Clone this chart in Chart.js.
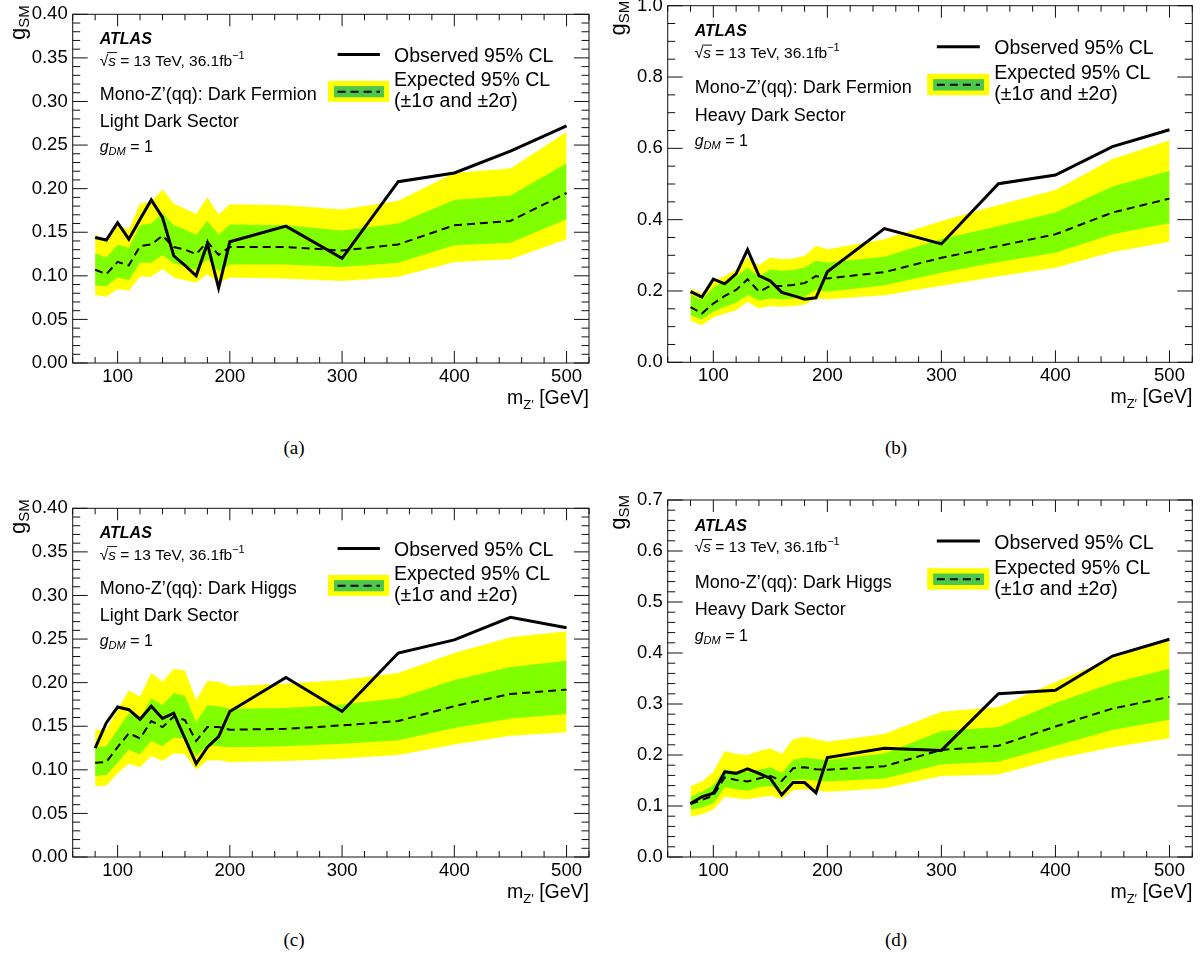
<!DOCTYPE html>
<html>
<head>
<meta charset="utf-8">
<script src="https://cdn.jsdelivr.net/npm/chart.js@4.4.0/dist/chart.umd.min.js"></script>
<style>
  body { margin: 0; background: #fff; width: 1203px; height: 958px; position: relative; overflow: hidden; }
  canvas { position: absolute; }
  .cap { position: absolute; width: 60px; text-align: center; font: 19px 'Liberation Serif', 'Times New Roman', serif; line-height: 22px; color: #000; }
</style>
</head>
<body>
<canvas id="cA" width="600" height="420" style="left:0;top:0"></canvas>
<canvas id="cB" width="603" height="430" style="left:600px;top:-10px"></canvas>
<canvas id="cC" width="600" height="420" style="left:0;top:494px"></canvas>
<canvas id="cD" width="603" height="430" style="left:600px;top:484px"></canvas>
<div class="cap" style="left:264px;top:437px">(a)</div>
<div class="cap" style="left:866px;top:437px">(b)</div>
<div class="cap" style="left:264px;top:929px">(c)</div>
<div class="cap" style="left:866px;top:929px">(d)</div>
<script>
// mediator masses [GeV]
var mass = [80, 90, 100, 110, 120, 130, 140, 150, 160, 170, 180, 190, 200, 250, 300, 350, 400, 450, 500];
var xTicks = [100, 200, 300, 400, 500];

// (a) dark fermion, light dark sector
var obsA  = [0.144,0.141,0.161,0.142,0.165,0.187,0.167,0.123,0.112,0.100,0.137,0.086,0.139,0.157,0.120,0.208,0.218,0.243,0.272];
var expA  = [0.107,0.102,0.116,0.112,0.134,0.136,0.146,0.133,0.130,0.125,0.139,0.124,0.133,0.133,0.129,0.136,0.158,0.163,0.195];
var s1upA = [0.126,0.121,0.136,0.132,0.158,0.160,0.172,0.158,0.153,0.147,0.163,0.147,0.159,0.158,0.152,0.160,0.187,0.192,0.229];
var s1dnA = [0.089,0.088,0.098,0.095,0.115,0.115,0.124,0.114,0.111,0.107,0.119,0.105,0.113,0.113,0.110,0.115,0.135,0.138,0.165];
var s2upA = [0.148,0.140,0.158,0.153,0.183,0.185,0.199,0.183,0.177,0.171,0.190,0.170,0.182,0.181,0.176,0.186,0.218,0.223,0.265];
var s2dnA = [0.078,0.076,0.085,0.083,0.099,0.099,0.108,0.098,0.095,0.092,0.102,0.092,0.098,0.097,0.094,0.099,0.116,0.119,0.142];

// (b) dark fermion, heavy dark sector
var obsB  = [0.198,0.183,0.233,0.220,0.248,0.316,0.243,0.228,0.196,0.187,0.177,0.181,0.254,0.375,0.332,0.501,0.525,0.605,0.652];
var expB  = [0.155,0.137,0.165,0.186,0.203,0.233,0.198,0.214,0.214,0.217,0.222,0.242,0.235,0.253,0.293,0.326,0.359,0.420,0.459];
var s1upB = [0.190,0.175,0.210,0.228,0.240,0.266,0.240,0.261,0.257,0.259,0.266,0.285,0.280,0.296,0.346,0.382,0.420,0.493,0.537];
var s1dnB = [0.132,0.120,0.142,0.156,0.167,0.189,0.173,0.179,0.177,0.179,0.184,0.203,0.198,0.216,0.251,0.281,0.307,0.359,0.390];
var s2upB = [0.207,0.193,0.226,0.243,0.259,0.295,0.273,0.294,0.289,0.291,0.299,0.327,0.317,0.345,0.396,0.441,0.483,0.570,0.623];
var s2dnB = [0.116,0.104,0.126,0.137,0.146,0.170,0.151,0.158,0.156,0.158,0.162,0.179,0.177,0.188,0.215,0.241,0.265,0.309,0.338];

// (c) dark higgs, light dark sector
var obsC  = [0.125,0.154,0.172,0.169,0.158,0.173,0.159,0.165,0.136,0.107,0.126,0.138,0.167,0.206,0.167,0.234,0.249,0.275,0.263];
var expC  = [0.108,0.109,0.126,0.142,0.136,0.156,0.149,0.161,0.157,0.133,0.149,0.149,0.146,0.147,0.151,0.156,0.173,0.187,0.192];
var s1upC = [0.126,0.127,0.146,0.165,0.159,0.182,0.174,0.188,0.185,0.155,0.174,0.173,0.170,0.171,0.175,0.182,0.203,0.218,0.225];
var s1dnC = [0.093,0.094,0.108,0.123,0.118,0.133,0.127,0.137,0.136,0.116,0.128,0.127,0.126,0.127,0.130,0.134,0.148,0.159,0.164];
var s2upC = [0.146,0.146,0.169,0.191,0.184,0.211,0.201,0.216,0.214,0.180,0.202,0.201,0.196,0.199,0.203,0.211,0.234,0.252,0.259];
var s2dnC = [0.081,0.082,0.096,0.107,0.103,0.116,0.110,0.119,0.118,0.100,0.111,0.111,0.109,0.110,0.113,0.117,0.129,0.139,0.143];

// (d) dark higgs, heavy dark sector
var obsD  = [0.105,0.118,0.125,0.167,0.164,0.173,0.164,0.154,0.122,0.146,0.146,0.126,0.195,0.213,0.209,0.320,0.327,0.394,0.427];
var expD  = [0.104,0.112,0.120,0.156,0.151,0.148,0.154,0.159,0.149,0.174,0.176,0.172,0.171,0.178,0.210,0.218,0.256,0.291,0.314];
var s1upD = [0.118,0.128,0.141,0.172,0.167,0.167,0.171,0.176,0.165,0.190,0.195,0.192,0.190,0.203,0.247,0.255,0.302,0.341,0.369];
var s1dnD = [0.092,0.097,0.105,0.137,0.133,0.130,0.137,0.139,0.131,0.151,0.152,0.149,0.148,0.154,0.182,0.187,0.218,0.249,0.269];
var s2upD = [0.139,0.148,0.167,0.208,0.202,0.200,0.208,0.213,0.202,0.231,0.236,0.231,0.226,0.241,0.285,0.294,0.343,0.390,0.427];
var s2dnD = [0.079,0.084,0.093,0.118,0.115,0.113,0.117,0.120,0.113,0.131,0.133,0.131,0.128,0.135,0.159,0.162,0.192,0.215,0.233];

var yTicksAC = [0, 0.05, 0.10, 0.15, 0.20, 0.25, 0.30, 0.35, 0.40];
var yTicksB  = [0, 0.2, 0.4, 0.6, 0.8, 1.0];
var yTicksD  = [0, 0.1, 0.2, 0.3, 0.4, 0.5, 0.6, 0.7];

var FONT = "'Liberation Sans', Arial, Helvetica, sans-serif";
var YELLOW = '#ffff00', GREEN = '#80ff00', LEGGREEN = '#4dc84d';

function pts(arr) {
  return mass.map(function (m, i) { return { x: m, y: arr[i] }; });
}

// draw a sequence of text pieces with their own fonts / vertical offsets
function runs(ctx, x, y, parts, align) {
  var total = 0;
  parts.forEach(function (p) { ctx.font = p.f; p.w = ctx.measureText(p.t).width; total += p.w; });
  var cx = align === 'right' ? x - total : x;
  parts.forEach(function (p) {
    ctx.font = p.f;
    ctx.fillText(p.t, cx, y + (p.dy || 0));
    cx += p.w;
  });
  return cx;
}

var deco = {
  id: 'deco',
  afterDraw: function (chart) {
    var o = chart.options.plugins.deco;
    var ctx = chart.ctx, a = chart.chartArea, xs = chart.scales.x, ys = chart.scales.y;
    var w = a.right - a.left, h = a.bottom - a.top;
    ctx.save();
    ctx.strokeStyle = '#111';
    ctx.lineWidth = 1;
    ctx.strokeRect(a.left, a.top, w, h);

    // ticks on all four sides, pointing inwards
    ctx.beginPath();
    for (var v = 60; v <= 520; v += 20) {
      var px = xs.getPixelForValue(v);
      var len = v % 100 === 0 ? 12 : 6;
      ctx.moveTo(px, a.bottom); ctx.lineTo(px, a.bottom - len);
      ctx.moveTo(px, a.top); ctx.lineTo(px, a.top + len);
    }
    var n = Math.round(o.yMax / o.minor);
    for (var i = 0; i <= n; i++) {
      var py = ys.getPixelForValue(i * o.minor);
      var l2 = i % o.div === 0 ? 15 : 7.5;
      ctx.moveTo(a.left, py); ctx.lineTo(a.left + l2, py);
      ctx.moveTo(a.right, py); ctx.lineTo(a.right - l2, py);
    }
    ctx.stroke();

    ctx.fillStyle = '#000';
    ctx.textBaseline = 'alphabetic';
    ctx.textAlign = 'left';

    // axis titles
    runs(ctx, a.right, a.bottom + 41, [
      { t: 'm', f: '19.5px ' + FONT },
      { t: 'Z\u2032', f: '13px ' + FONT, dy: 5 },
      { t: ' [GeV]', f: '19.5px ' + FONT }
    ], 'right');
    ctx.save();
    ctx.translate(25, a.top - o.tGap);
    ctx.rotate(-Math.PI / 2);
    runs(ctx, 0, 0, [
      { t: 'g', f: '22px ' + FONT },
      { t: 'SM', f: '15px ' + FONT, dy: 4 }
    ], 'right');
    ctx.restore();

    // ATLAS labels
    var L = a.left + 27, T = a.top;
    runs(ctx, L, T + 0.086 * h, [{ t: 'ATLAS', f: 'italic bold 16px ' + FONT }]);
    ctx.font = '15.5px ' + FONT;
    var yb = T + 0.147 * h;
    ctx.fillText('\u221A', L, yb);
    var sx = L + ctx.measureText('\u221A').width;
    var end = runs(ctx, sx, yb, [{ t: 's', f: 'italic 15.5px ' + FONT }]);
    ctx.beginPath();
    ctx.lineWidth = 1;
    ctx.moveTo(sx - 1, yb - 13); ctx.lineTo(end + 1, yb - 13);
    ctx.stroke();
    runs(ctx, end, yb, [
      { t: ' = 13 TeV, 36.1fb', f: '15.5px ' + FONT },
      { t: '\u22121', f: '11px ' + FONT, dy: -7 }
    ]);
    runs(ctx, L, T + 0.246 * h, [{ t: o.line1, f: '18px ' + FONT }]);
    runs(ctx, L, T + 0.322 * h, [{ t: o.line2, f: '18px ' + FONT }]);
    runs(ctx, L, T + 0.394 * h, [
      { t: 'g', f: 'italic 16px ' + FONT },
      { t: 'DM', f: 'italic 11px ' + FONT, dy: 3 },
      { t: ' = 1', f: '16px ' + FONT }
    ]);

    // legend
    var X0 = a.left;
    ctx.fillStyle = YELLOW;
    ctx.fillRect(X0 + 0.4945 * w, T + 0.191 * h, 0.1185 * w, 0.06 * h);
    ctx.fillStyle = LEGGREEN;
    ctx.fillRect(X0 + 0.506 * w, T + 0.206 * h, 0.097 * w, 0.032 * h);
    ctx.strokeStyle = '#000';
    ctx.beginPath();
    ctx.lineWidth = 3;
    ctx.moveTo(X0 + 0.513 * w, T + 0.115 * h); ctx.lineTo(X0 + 0.595 * w, T + 0.115 * h);
    ctx.stroke();
    ctx.beginPath();
    ctx.lineWidth = 2;
    ctx.setLineDash([8, 5]);
    ctx.moveTo(X0 + 0.513 * w, T + 0.222 * h); ctx.lineTo(X0 + 0.595 * w, T + 0.222 * h);
    ctx.stroke();
    ctx.setLineDash([]);
    ctx.fillStyle = '#000';
    var tx = X0 + 0.6225 * w;
    runs(ctx, tx, T + 0.136 * h, [{ t: 'Observed 95% CL', f: '19.5px ' + FONT }]);
    runs(ctx, tx, T + 0.206 * h, [{ t: 'Expected 95% CL', f: '19.5px ' + FONT }]);
    runs(ctx, tx, T + 0.265 * h, [{ t: '(\u00B11\u03C3 and \u00B12\u03C3)', f: '19.5px ' + FONT }]);
    ctx.restore();
  }
};

function makeChart(id, d) {
  new Chart(document.getElementById(id), {
    type: 'line',
    data: {
      datasets: [
        { data: pts(d.obs), borderColor: '#000', borderWidth: 3, fill: false },
        { data: pts(d.exp), borderColor: '#000', borderWidth: 2, borderDash: [8, 5], fill: false },
        { data: pts(d.s1up), borderColor: 'rgba(0,0,0,0)', borderWidth: 0, backgroundColor: GREEN, fill: '+1' },
        { data: pts(d.s1dn), borderColor: 'rgba(0,0,0,0)', borderWidth: 0, fill: false },
        { data: pts(d.s2up), borderColor: 'rgba(0,0,0,0)', borderWidth: 0, backgroundColor: YELLOW, fill: '+1' },
        { data: pts(d.s2dn), borderColor: 'rgba(0,0,0,0)', borderWidth: 0, fill: false }
      ]
    },
    options: {
      responsive: false,
      animation: false,
      devicePixelRatio: 1,
      events: [],
      layout: { padding: { left: 0, top: d.top, right: d.right, bottom: 0 } },
      elements: { point: { radius: 0 }, line: { tension: 0 } },
      scales: {
        x: {
          type: 'linear', min: 60, max: 520,
          grid: { display: false, drawTicks: false },
          border: { display: false },
          afterBuildTicks: function (s) { s.ticks = xTicks.map(function (v) { return { value: v }; }); },
          afterFit: function (s) { s.height = d.xH; s.paddingLeft = 0; s.paddingRight = 0; },
          ticks: { padding: 3, color: '#000', font: { family: FONT, size: 18.5 }, maxRotation: 0 }
        },
        y: {
          min: 0, max: d.yMax,
          grid: { display: false, drawTicks: false },
          border: { display: false },
          afterBuildTicks: function (s) { s.ticks = d.yTicks.map(function (v) { return { value: v }; }); },
          afterFit: function (s) { s.width = d.yW; s.paddingTop = 0; s.paddingBottom = 0; },
          ticks: {
            padding: 5, color: '#000', font: { family: FONT, size: 18.5 },
            callback: function (v) { return Number(v).toFixed(d.dec); }
          }
        }
      },
      plugins: {
        legend: { display: false },
        tooltip: { enabled: false },
        deco: { yMax: d.yMax, minor: d.minor, div: d.div, line1: d.line1, line2: d.line2, tGap: d.tGap }
      }
    },
    plugins: [deco]
  });
}

makeChart('cA', { obs: obsA, exp: expA, s1up: s1upA, s1dn: s1dnA, s2up: s2upA, s2dn: s2dnA,
  yMax: 0.40, yTicks: yTicksAC, minor: 0.01, div: 5, dec: 2, top: 14.3, right: 11, yW: 72.7, xH: 57, tGap: 9,
  line1: 'Mono-Z\u2019(qq): Dark Fermion', line2: 'Light Dark Sector' });
makeChart('cB', { obs: obsB, exp: expB, s1up: s1upB, s1dn: s1dnB, s2up: s2upB, s2dn: s2dnB,
  yMax: 1.0, yTicks: yTicksB, minor: 0.05, div: 4, dec: 1, top: 15.7, right: 10.7, yW: 67.7, xH: 57.7, tGap: 5,
  line1: 'Mono-Z\u2019(qq): Dark Fermion', line2: 'Heavy Dark Sector' });
makeChart('cC', { obs: obsC, exp: expC, s1up: s1upC, s1dn: s1dnC, s2up: s2upC, s2dn: s2dnC,
  yMax: 0.40, yTicks: yTicksAC, minor: 0.01, div: 5, dec: 2, top: 14.3, right: 11, yW: 72.7, xH: 57, tGap: 9,
  line1: 'Mono-Z\u2019(qq): Dark Higgs', line2: 'Light Dark Sector' });
makeChart('cD', { obs: obsD, exp: expD, s1up: s1upD, s1dn: s1dnD, s2up: s2upD, s2dn: s2dnD,
  yMax: 0.7, yTicks: yTicksD, minor: 0.02, div: 5, dec: 1, top: 16, right: 10.7, yW: 67.7, xH: 57, tGap: 5,
  line1: 'Mono-Z\u2019(qq): Dark Higgs', line2: 'Heavy Dark Sector' });
</script>
</body>
</html>
